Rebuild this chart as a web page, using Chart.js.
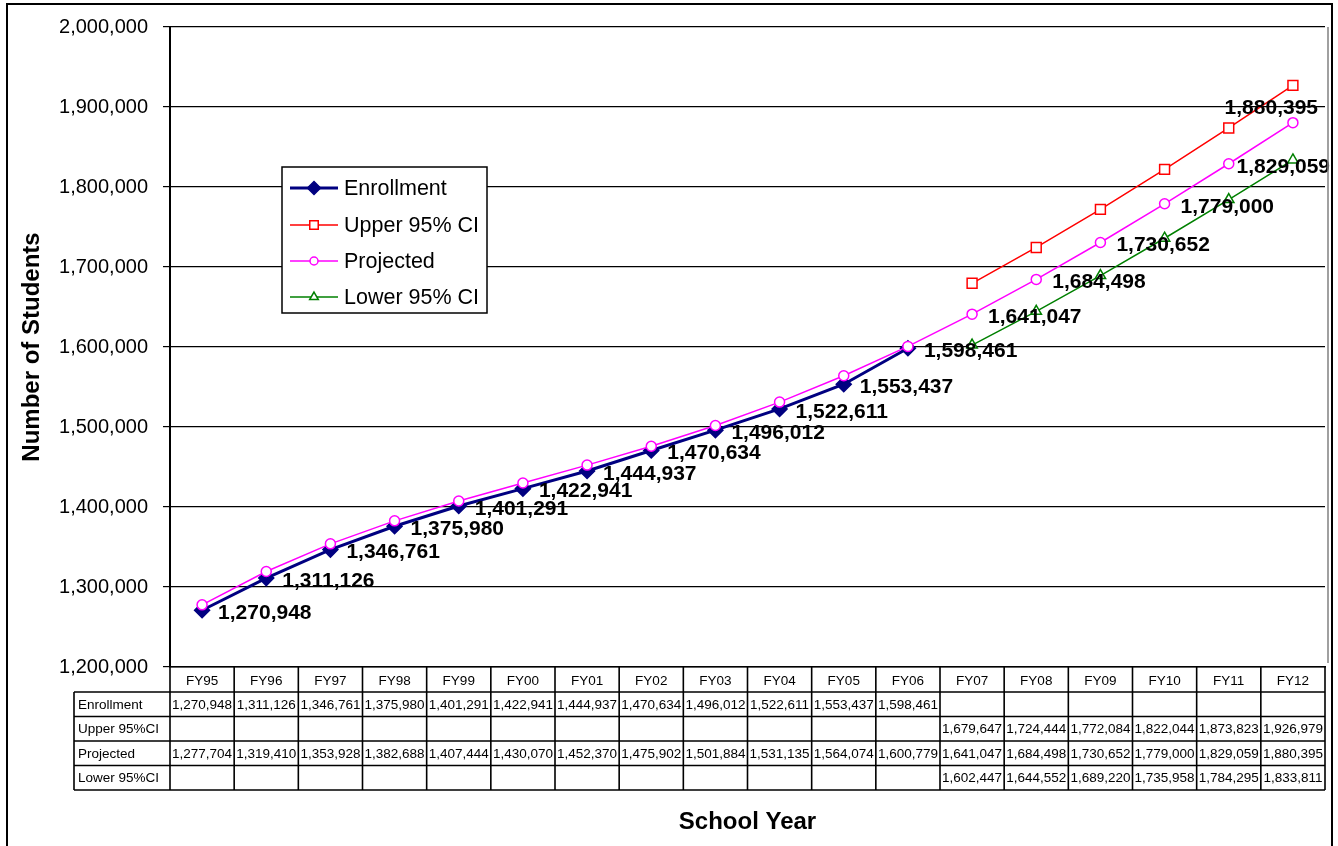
<!DOCTYPE html>
<html>
<head>
<meta charset="utf-8">
<title>Student Enrollment and Projections</title>
<style>
  html, body { margin: 0; padding: 0; background: #ffffff; }
  #wrap { width: 1338px; height: 846px; position: relative; }
</style>
<script src="https://cdn.jsdelivr.net/npm/chart.js@4.4.1/dist/chart.umd.min.js"></script>
</head>
<body>
<div id="wrap"><canvas id="c" width="1338" height="846"></canvas></div>
<script>
// School years on the category axis
const categories = ['FY95','FY96','FY97','FY98','FY99','FY00','FY01','FY02','FY03','FY04','FY05','FY06',
                    'FY07','FY08','FY09','FY10','FY11','FY12'];

// Actual enrollment (FY95 - FY06)
const enrollment = [1270948, 1311126, 1346761, 1375980, 1401291, 1422941, 1444937, 1470634, 1496012,
                    1522611, 1553437, 1598461, null, null, null, null, null, null];

// Upper bound of the 95% confidence interval (FY07 - FY12)
const upper95 = [null, null, null, null, null, null, null, null, null, null, null, null,
                 1679647, 1724444, 1772084, 1822044, 1873823, 1926979];

// Projected enrollment (whole period)
const projected = [1277704, 1319410, 1353928, 1382688, 1407444, 1430070, 1452370, 1475902, 1501884,
                   1531135, 1564074, 1600779, 1641047, 1684498, 1730652, 1779000, 1829059, 1880395];

// Lower bound of the 95% confidence interval (FY07 - FY12)
const lower95 = [null, null, null, null, null, null, null, null, null, null, null, null,
                 1602447, 1644552, 1689220, 1735958, 1784295, 1833811];

// Y axis range and step
const yMin = 1200000;
const yMax = 2000000;
const yStep = 100000;

// Row names in the data table under the chart
const tableRowNames = ['Enrollment', 'Upper 95%CI', 'Projected', 'Lower 95%CI'];
const tableRows = [enrollment, upper95, projected, lower95];

// Legend entries
const legendNames = ['Enrollment', 'Upper 95% CI', 'Projected', 'Lower 95% CI'];

const FONT = '"Liberation Sans", Arial, Helvetica, sans-serif';
const fmt = v => Number(v).toLocaleString('en-US');

const NAVY = '#000080', RED = '#ff0000', MAGENTA = '#ff00ff', GREEN = '#008000';

const seriesStyles = [
  { color: NAVY,    width: 3,   shape: 'rectRot',  radius: 7.5, fill: NAVY },
  { color: RED,     width: 1.5, shape: 'rect',     radius: 7,   fill: '#ffffff' },
  { color: MAGENTA, width: 1.5, shape: 'circle',   radius: 5,   fill: '#ffffff' },
  { color: GREEN,   width: 1.5, shape: 'triangle', radius: 6,   fill: '#ffffff' }
];

function makeDataset(label, data, st, order) {
  return {
    label, data, order,
    borderColor: st.color,
    borderWidth: st.width,
    pointStyle: st.shape,
    pointRadius: st.radius,
    pointHoverRadius: st.radius,
    pointBackgroundColor: st.fill,
    pointBorderColor: st.color,
    pointBorderWidth: 1.5,
    spanGaps: false,
    tension: 0,
    fill: false
  };
}

// White page and outer frame
const framePlugin = {
  id: 'frame',
  beforeDraw(chart) {
    const ctx = chart.ctx;
    ctx.save();
    ctx.fillStyle = '#ffffff';
    ctx.fillRect(0, 0, chart.width, chart.height);
    ctx.restore();
  },
  afterDraw(chart) {
    const ctx = chart.ctx;
    const a = chart.chartArea;
    ctx.save();
    // plot area right edge
    ctx.strokeStyle = '#808080';
    ctx.lineWidth = 1.5;
    ctx.beginPath();
    ctx.moveTo(a.right + 3, a.top);
    ctx.lineTo(a.right + 3, a.bottom - 4);
    ctx.stroke();
    // outer chart border
    ctx.strokeStyle = '#000000';
    ctx.lineWidth = 2;
    ctx.strokeRect(7, 4, 1325, 860);
    ctx.restore();
  }
};

// Data table beneath the plot
const tablePlugin = {
  id: 'dataTable',
  afterDraw(chart) {
    const ctx = chart.ctx;
    const a = chart.chartArea;
    const xs = chart.scales.x;
    const n = categories.length;
    const colW = (a.right - a.left) / n;
    const headerTop = a.bottom;
    const headerBottom = 692;
    const rowH = 24.5;
    const labelLeft = 74;
    const tableBottom = headerBottom + rowH * tableRows.length;

    ctx.save();
    ctx.strokeStyle = '#000000';
    ctx.lineWidth = 1.6;

    // header separators
    ctx.beginPath();
    for (let i = 0; i <= n; i++) {
      const x = a.left + colW * i;
      ctx.moveTo(x, headerTop);
      ctx.lineTo(x, headerBottom);
    }
    ctx.stroke();

    // horizontal rules of the data rows
    ctx.beginPath();
    for (let r = 0; r <= tableRows.length; r++) {
      const y = headerBottom + rowH * r;
      ctx.moveTo(labelLeft, y);
      ctx.lineTo(a.right, y);
    }
    // vertical rules of the data rows
    ctx.moveTo(labelLeft, headerBottom);
    ctx.lineTo(labelLeft, tableBottom);
    for (let i = 0; i <= n; i++) {
      const x = a.left + colW * i;
      ctx.moveTo(x, headerBottom);
      ctx.lineTo(x, tableBottom);
    }
    ctx.stroke();

    // row names
    ctx.fillStyle = '#000000';
    ctx.font = '13.5px ' + FONT;
    ctx.textBaseline = 'middle';
    ctx.textAlign = 'left';
    tableRowNames.forEach((name, r) => {
      ctx.fillText(name, labelLeft + 4, headerBottom + rowH * r + rowH / 2 + 1);
    });

    // values
    ctx.textAlign = 'center';
    tableRows.forEach((vals, r) => {
      vals.forEach((v, i) => {
        if (v === null || v === undefined) return;
        const cx = xs.getPixelForValue(i);
        ctx.fillText(fmt(v), cx, headerBottom + rowH * r + rowH / 2 + 1);
      });
    });
    ctx.restore();
  }
};

// Value labels: enrollment for actual years, projection for future years
const valueLabelPlugin = {
  id: 'valueLabels',
  afterDatasetsDraw(chart) {
    const ctx = chart.ctx;
    const enrMeta = chart.getDatasetMeta(0);
    const prjMeta = chart.getDatasetMeta(2);
    const limit = 1332;
    ctx.save();
    ctx.font = 'bold 21px ' + FONT;
    ctx.fillStyle = '#000000';
    ctx.textBaseline = 'middle';
    ctx.textAlign = 'left';
    categories.forEach((c, i) => {
      let value, pt;
      if (enrollment[i] !== null) { value = enrollment[i]; pt = enrMeta.data[i]; }
      else { value = projected[i]; pt = prjMeta.data[i]; }
      const text = fmt(value);
      const w = ctx.measureText(text).width;
      let x = pt.x + 16;
      let y = pt.y + 3;
      if (x + w > limit) {
        if (x + w - limit < 20) {
          x = limit - w - 2;
        } else {
          x = limit - 14 - w;
          y = pt.y - 14;
        }
      }
      ctx.fillText(text, x, y);
    });
    ctx.restore();
  }
};

function drawMarker(ctx, shape, x, y, r, stroke, fill) {
  ctx.beginPath();
  if (shape === 'rectRot') {
    ctx.moveTo(x, y - r); ctx.lineTo(x + r, y); ctx.lineTo(x, y + r); ctx.lineTo(x - r, y); ctx.closePath();
  } else if (shape === 'rect') {
    const s = r * Math.SQRT1_2;
    ctx.rect(x - s, y - s, 2 * s, 2 * s);
  } else if (shape === 'circle') {
    ctx.arc(x, y, r, 0, Math.PI * 2);
  } else if (shape === 'triangle') {
    ctx.moveTo(x, y - r);
    ctx.lineTo(x + r * 0.866, y + r * 0.5);
    ctx.lineTo(x - r * 0.866, y + r * 0.5);
    ctx.closePath();
  }
  ctx.fillStyle = fill;
  ctx.fill();
  ctx.strokeStyle = stroke;
  ctx.lineWidth = 1.5;
  ctx.stroke();
}

// Boxed legend inside the plot
const legendBoxPlugin = {
  id: 'legendBox',
  afterDraw(chart) {
    const ctx = chart.ctx;
    const box = { x: 282, y: 167, w: 205, h: 146 };
    const rowsY = [188, 225, 261, 297];
    ctx.save();
    ctx.fillStyle = '#ffffff';
    ctx.fillRect(box.x, box.y, box.w, box.h);
    ctx.strokeStyle = '#000000';
    ctx.lineWidth = 1.5;
    ctx.strokeRect(box.x, box.y, box.w, box.h);
    legendNames.forEach((name, k) => {
      const st = seriesStyles[k];
      const y = rowsY[k];
      ctx.strokeStyle = st.color;
      ctx.lineWidth = st.width;
      ctx.beginPath();
      ctx.moveTo(290, y);
      ctx.lineTo(338, y);
      ctx.stroke();
      drawMarker(ctx, st.shape, 314, y, st.radius - 1, st.color, st.fill);
      ctx.fillStyle = '#000000';
      ctx.font = '21.5px ' + FONT;
      ctx.textAlign = 'left';
      ctx.textBaseline = 'middle';
      ctx.fillText(name, 344, y + 1);
    });
    ctx.restore();
  }
};

const chart = new Chart(document.getElementById('c'), {
  type: 'line',
  data: {
    labels: categories,
    datasets: [
      makeDataset('Enrollment', enrollment, seriesStyles[0], 3),
      makeDataset('Upper 95% CI', upper95, seriesStyles[1], 2),
      makeDataset('Projected', projected, seriesStyles[2], 1),
      makeDataset('Lower 95% CI', lower95, seriesStyles[3], 0)
    ]
  },
  options: {
    responsive: false,
    animation: false,
    devicePixelRatio: 1,
    layout: { padding: { top: 23, right: 13, left: 0, bottom: 0 } },
    plugins: {
      legend: { display: false },
      tooltip: { enabled: false },
      title: { display: false }
    },
    scales: {
      x: {
        type: 'category',
        offset: true,
        grid: { display: false, drawTicks: false },
        border: { display: true, color: '#000000', width: 1.5 },
        ticks: {
          autoSkip: false,
          maxRotation: 0,
          minRotation: 0,
          padding: 6,
          color: '#000000',
          font: { family: FONT, size: 13.5 }
        },
        title: {
          display: true,
          text: 'School Year',
          color: '#000000',
          font: { family: FONT, size: 24, weight: 'bold' },
          padding: { top: 0, bottom: 9 }
        },
        afterFit(scale) { scale.height = 179; }
      },
      y: {
        min: yMin,
        max: yMax,
        ticks: {
          stepSize: yStep,
          padding: 15,
          color: '#000000',
          font: { family: FONT, size: 20 },
          callback: v => fmt(v)
        },
        grid: {
          color: '#000000',
          lineWidth: 1.2,
          drawTicks: true,
          tickLength: 7,
          tickColor: '#000000'
        },
        border: { display: true, color: '#000000', width: 2 },
        title: {
          display: true,
          text: 'Number of Students',
          color: '#000000',
          font: { family: FONT, size: 24, weight: 'bold' },
          padding: { top: 18, bottom: 0 }
        },
        afterFit(scale) { scale.width = 170; }
      }
    }
  },
  plugins: [framePlugin, tablePlugin, valueLabelPlugin, legendBoxPlugin]
});
</script>
</body>
</html>
